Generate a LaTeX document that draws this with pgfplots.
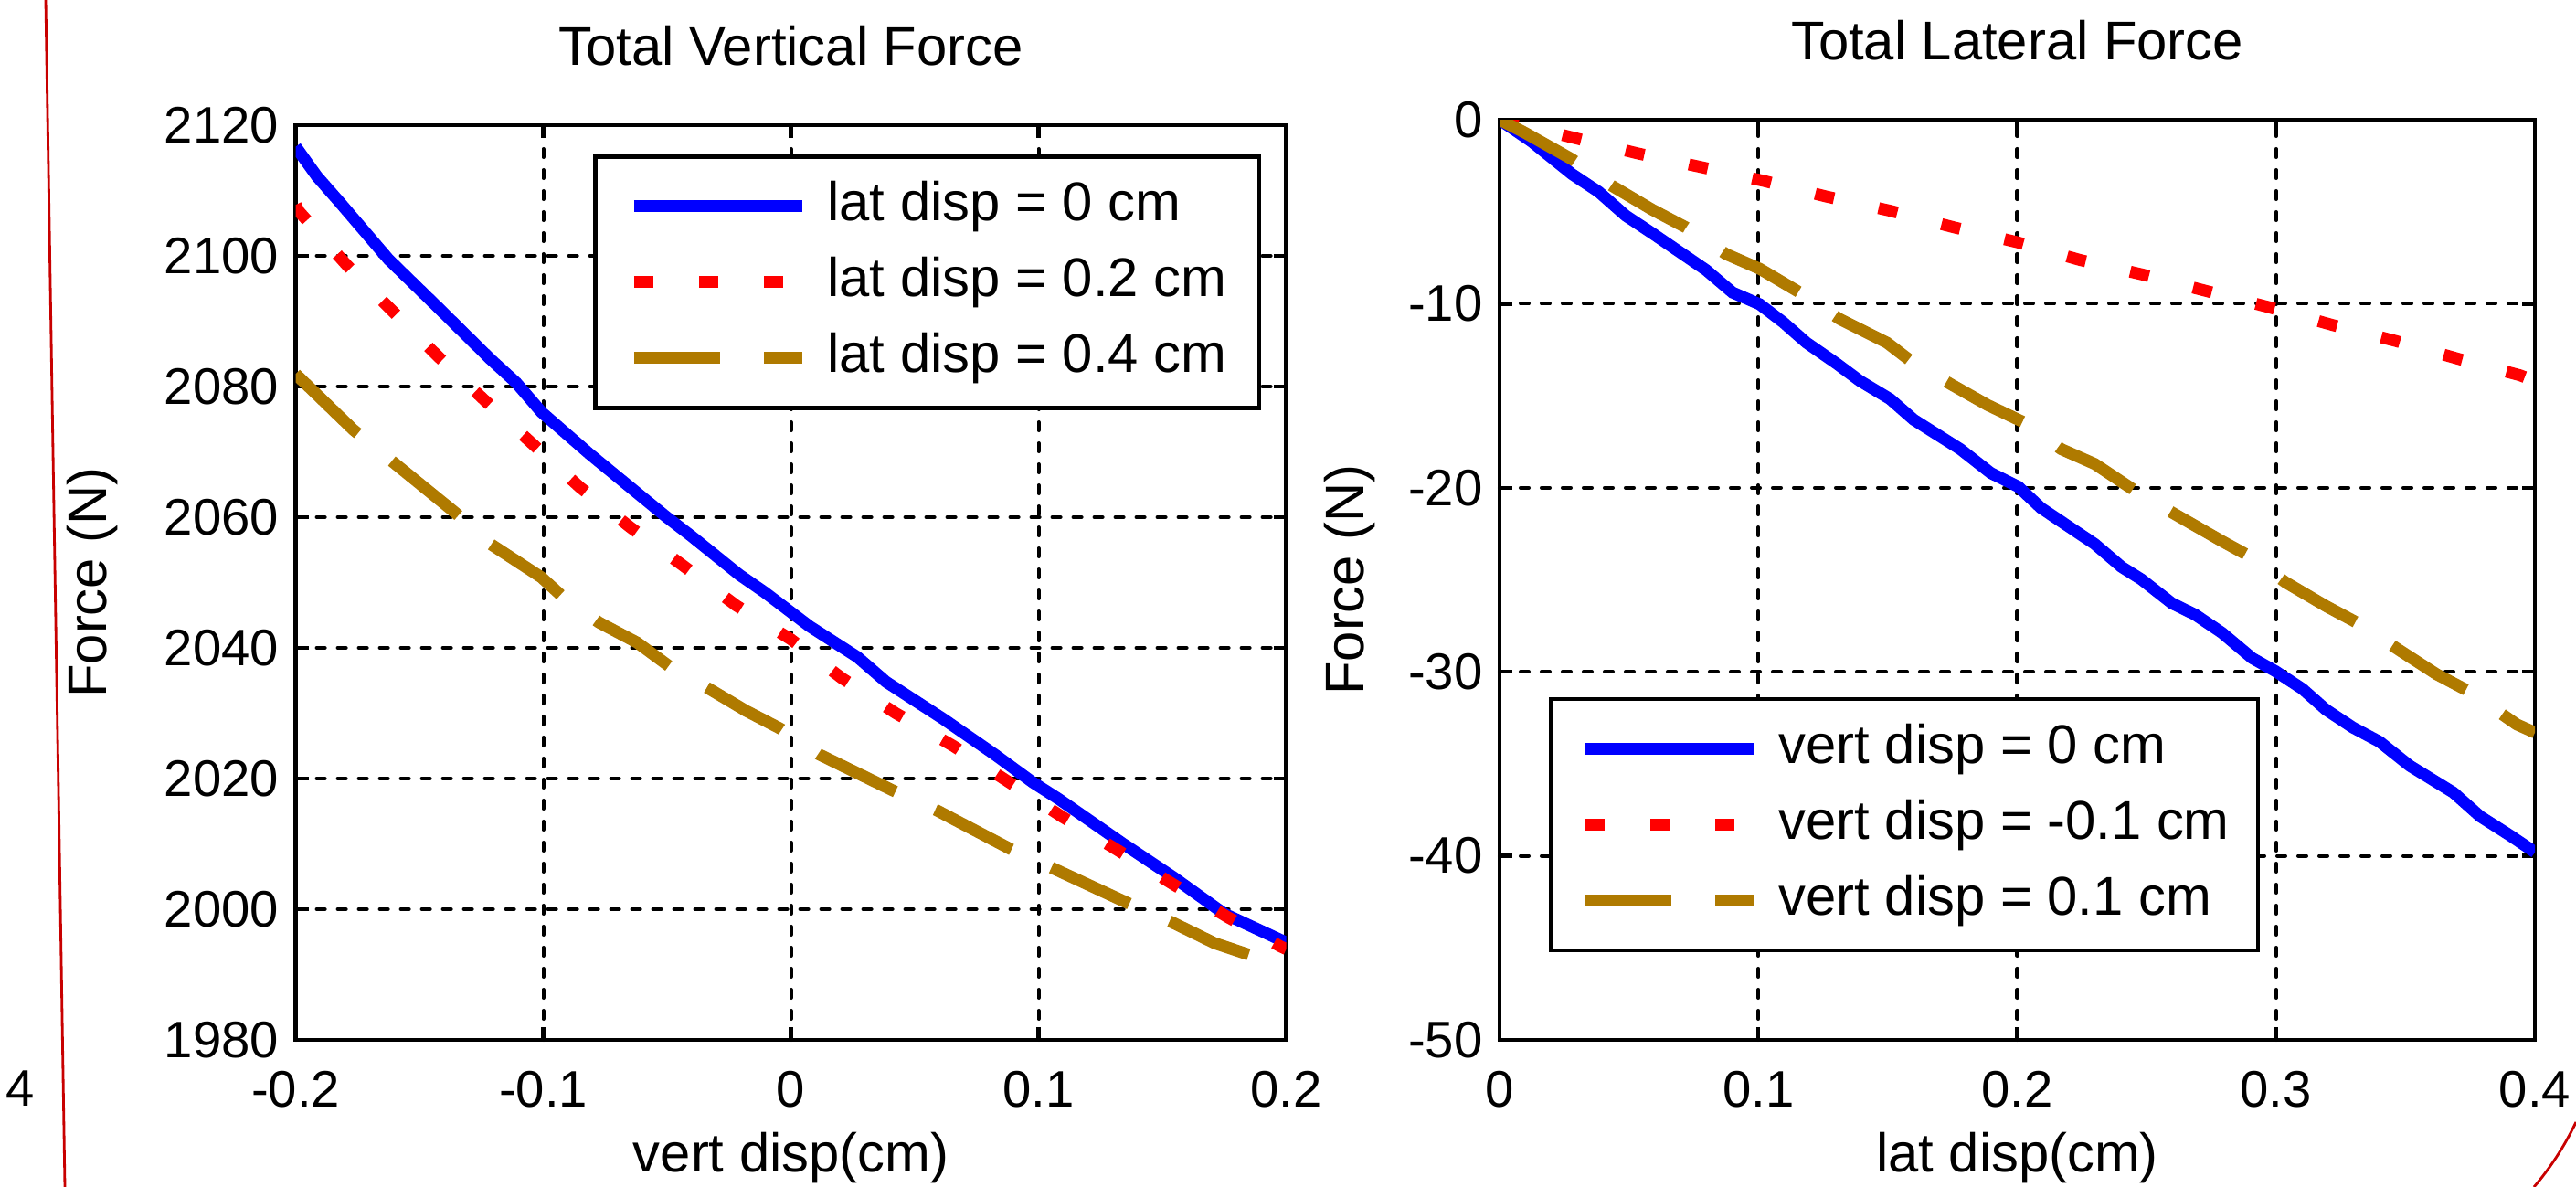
\documentclass[border=0pt]{standalone}
\usepackage{fontspec}
\setmainfont{Liberation Sans}
\usepackage{pgfplots}
\pgfplotsset{compat=1.18}

\definecolor{mblue}{RGB}{0,0,255}
\definecolor{mred}{RGB}{255,0,0}
\definecolor{mgold}{RGB}{175,122,0}
\definecolor{edgered}{RGB}{200,0,0}

\newcommand\txt{\fontsize{17pt}{20pt}\selectfont}
\newcommand\tks{\fontsize{16pt}{19pt}\selectfont}

\pgfplotsset{
  mat/.style={
    scale only axis, anchor=south west,
    axis line style={black, line width=1.2pt},
    tick style={black, line width=1.2pt},
    major tick length=0.14cm,
    tick align=inside,
    xtick pos=both, ytick pos=both,
    grid=major,
    major grid style={black, line width=1.15pt, line cap=round, dash pattern=on 0.09cm off 0.14cm},
    scaled ticks=false,
    tick label style={font=\tks, inner sep=0pt},
    xticklabel style={anchor=north, yshift=-0.34cm},
    yticklabel style={anchor=east, xshift=-0.18cm},
    title style={font=\txt, at={(0.5,1)}, anchor=base, yshift=0.44cm},
    xlabel style={font=\txt, at={(0.5,0)}, anchor=base, yshift=-1.45cm},
    ylabel style={font=\txt, anchor=center},
    legend cell align=left,
    legend image code/.code={\draw[#1] (0cm,0cm) -- (1.84cm,0cm);},
    legend style={draw=black, line width=1.3pt, fill=white,
      inner xsep=0.36cm, inner ysep=0.27cm, row sep=0.28cm,
      nodes={inner sep=0pt, text height=0.43cm, text depth=0.12cm, font=\txt},
      /tikz/every odd column/.append style={column sep=0.21cm}},
  },
  sblue/.style={mblue, line width=3.7pt},
  sred/.style={mred, line width=3.7pt, dash pattern=on 0.21cm off 0.50cm},
  sgold/.style={mgold, line width=3.7pt, dash pattern=on 0.94cm off 0.48cm},
}

\begin{document}
\begin{tikzpicture}

\begin{axis}[mat,
  at={(3.236cm,1.61cm)}, width=10.84cm, height=10.01cm,
  xmin=-0.2, xmax=0.2, ymin=1980, ymax=2120,
  xtick={-0.2,-0.1,0,0.1,0.2}, xticklabels={-0.2,-0.1,0,0.1,0.2},
  ytick={1980,2000,2020,2040,2060,2080,2100,2120},
  yticklabels={1980,2000,2020,2040,2060,2080,2100,2120},
  title={Total Vertical Force},
  xlabel={vert disp(cm)},
  ylabel={Force (N)},
  ylabel style={at={(-0.2054,0.5)}},
  legend style={at={(0.975,0.968)}, anchor=north east},
]
\addplot[sblue] coordinates {
  (-0.2,2116.7) (-0.1915,2112.2) (-0.182,2108.1) (-0.1626,2099.5) (-0.142,2091.9)
  (-0.1214,2084.2) (-0.111,2080.6) (-0.1008,2076.1) (-0.0814,2069.7) (-0.0621,2063.7)
  (-0.0505,2060.1) (-0.0402,2057.1) (-0.0209,2051.2) (-0.0106,2048.5) (0.0075,2043.3)
  (0.0268,2038.6) (0.0384,2034.8) (0.0616,2029.1) (0.0822,2023.7) (0.0977,2019.4)
  (0.108,2016.9) (0.1338,2010.1) (0.1544,2004.9) (0.175,1999.3) (0.2,1994.9)};
\addplot[sred] coordinates {
  (-0.2,2107.8) (-0.1987,2106.8) (-0.1794,2098.6) (-0.1613,2091.7) (-0.1425,2084.6)
  (-0.124,2078.0) (-0.1046,2071.3) (-0.0853,2064.6) (-0.0647,2058.4) (-0.0436,2052.6)
  (-0.0222,2046.5) (0,2041.3) (0.0204,2035.4) (0.0423,2030.0) (0.0655,2025.0)
  (0.0874,2019.6) (0.1093,2014.2) (0.1312,2009.2) (0.1544,2003.8) (0.1763,1998.8)
  (0.1977,1994.3) (0.2,1993.9)};
\addplot[sgold] coordinates {
  (-0.2,2081.9) (-0.1768,2073.4) (-0.1356,2060.7) (-0.1214,2055.9) (-0.1008,2050.8)
  (-0.093,2048.1) (-0.0776,2043.9) (-0.0621,2040.8) (-0.0492,2037.2) (-0.0325,2033.6)
  (-0.0183,2030.4) (-0.0041,2027.6) (0.0113,2023.7) (0.041,2018.2) (0.059,2015.1)
  (0.0887,2009.2) (0.1067,2006.1) (0.1351,2001.1) (0.1544,1997.9) (0.1711,1994.8)
  (0.1853,1993.0) (0.2,1991.0)};
\legend{lat disp = 0 cm, lat disp = 0.2 cm, lat disp = 0.4 cm}
\end{axis}

\begin{axis}[mat,
  at={(16.41cm,1.61cm)}, width=11.33cm, height=10.07cm,
  xmin=0, xmax=0.4, ymin=-50, ymax=0,
  xtick={0,0.1,0.2,0.3,0.4}, xticklabels={0,0.1,0.2,0.3,0.4},
  ytick={-50,-40,-30,-20,-10,0},
  yticklabels={-50,-40,-30,-20,-10,0},
  title={Total Lateral Force},
  xlabel={lat disp(cm)},
  ylabel={Force (N)},
  ylabel style={at={(-0.1448,0.5)}},
  legend style={at={(0.048,0.095)}, anchor=south west, inner xsep=0.31cm},
]
\addplot[sblue] coordinates {
  (0,0) (0.0124,-1.19) (0.028,-2.96) (0.0383,-3.92) (0.0487,-5.21) (0.059,-6.17)
  (0.0798,-8.17) (0.09,-9.39) (0.1005,-10.03) (0.1095,-11.0) (0.1186,-12.12)
  (0.1302,-13.25) (0.1393,-14.2) (0.1509,-15.18) (0.16,-16.3) (0.178,-17.9)
  (0.1898,-19.2) (0.2004,-19.94) (0.2092,-21.1) (0.2299,-23.05) (0.2403,-24.3)
  (0.248,-24.98) (0.2597,-26.27) (0.2688,-26.9) (0.2791,-27.88) (0.2908,-29.26)
  (0.2998,-29.97) (0.3102,-30.93) (0.3193,-32.06) (0.3296,-33.02) (0.34,-33.8)
  (0.3516,-35.1) (0.3685,-36.56) (0.3788,-37.85) (0.3905,-38.9) (0.4,-39.8)};
\addplot[sred] coordinates {
  (0,0) (0.028,-0.96) (0.0533,-1.83) (0.0777,-2.57) (0.1025,-3.34) (0.1264,-4.18)
  (0.151,-4.95) (0.1756,-5.85) (0.2001,-6.66) (0.2242,-7.62) (0.2486,-8.42)
  (0.2734,-9.32) (0.2973,-10.19) (0.3219,-11.16) (0.3464,-12.03) (0.3703,-12.99)
  (0.3943,-13.89) (0.4,-14.2)};
\addplot[sgold] coordinates {
  (0,0) (0.0098,-0.71) (0.028,-2.15) (0.0435,-3.6) (0.059,-4.89) (0.072,-5.85)
  (0.0875,-7.3) (0.1005,-8.1) (0.116,-9.39) (0.1315,-10.84) (0.1497,-12.12)
  (0.1587,-13.09) (0.1743,-14.37) (0.1885,-15.5) (0.2028,-16.46) (0.217,-17.9)
  (0.23,-18.71) (0.2455,-20.16) (0.2611,-21.45) (0.2791,-22.9) (0.2895,-23.7)
  (0.3037,-25.14) (0.3193,-26.43) (0.3322,-27.4) (0.3478,-28.84) (0.362,-30.13)
  (0.3749,-31.09) (0.393,-32.86) (0.4,-33.3)};
\legend{vert disp = 0 cm, vert disp = -0.1 cm, vert disp = 0.1 cm}
\end{axis}

% stray bits from the neighbouring figure at the page edges
\draw[edgered, line width=0.8pt] (0.50cm,12.99cm) -- (0.71cm,0cm);
\draw[edgered, line width=0.8pt] (28.19cm,0.71cm) .. controls (28.05cm,0.42cm) and (27.9cm,0.2cm) .. (27.73cm,0cm);
\node[font=\tks, inner sep=0pt, anchor=center] at (0.22cm,1.08cm) {4};

\pgfresetboundingbox
\path[use as bounding box] (0,0) rectangle (28.19cm,12.99cm);
\end{tikzpicture}
\end{document}
